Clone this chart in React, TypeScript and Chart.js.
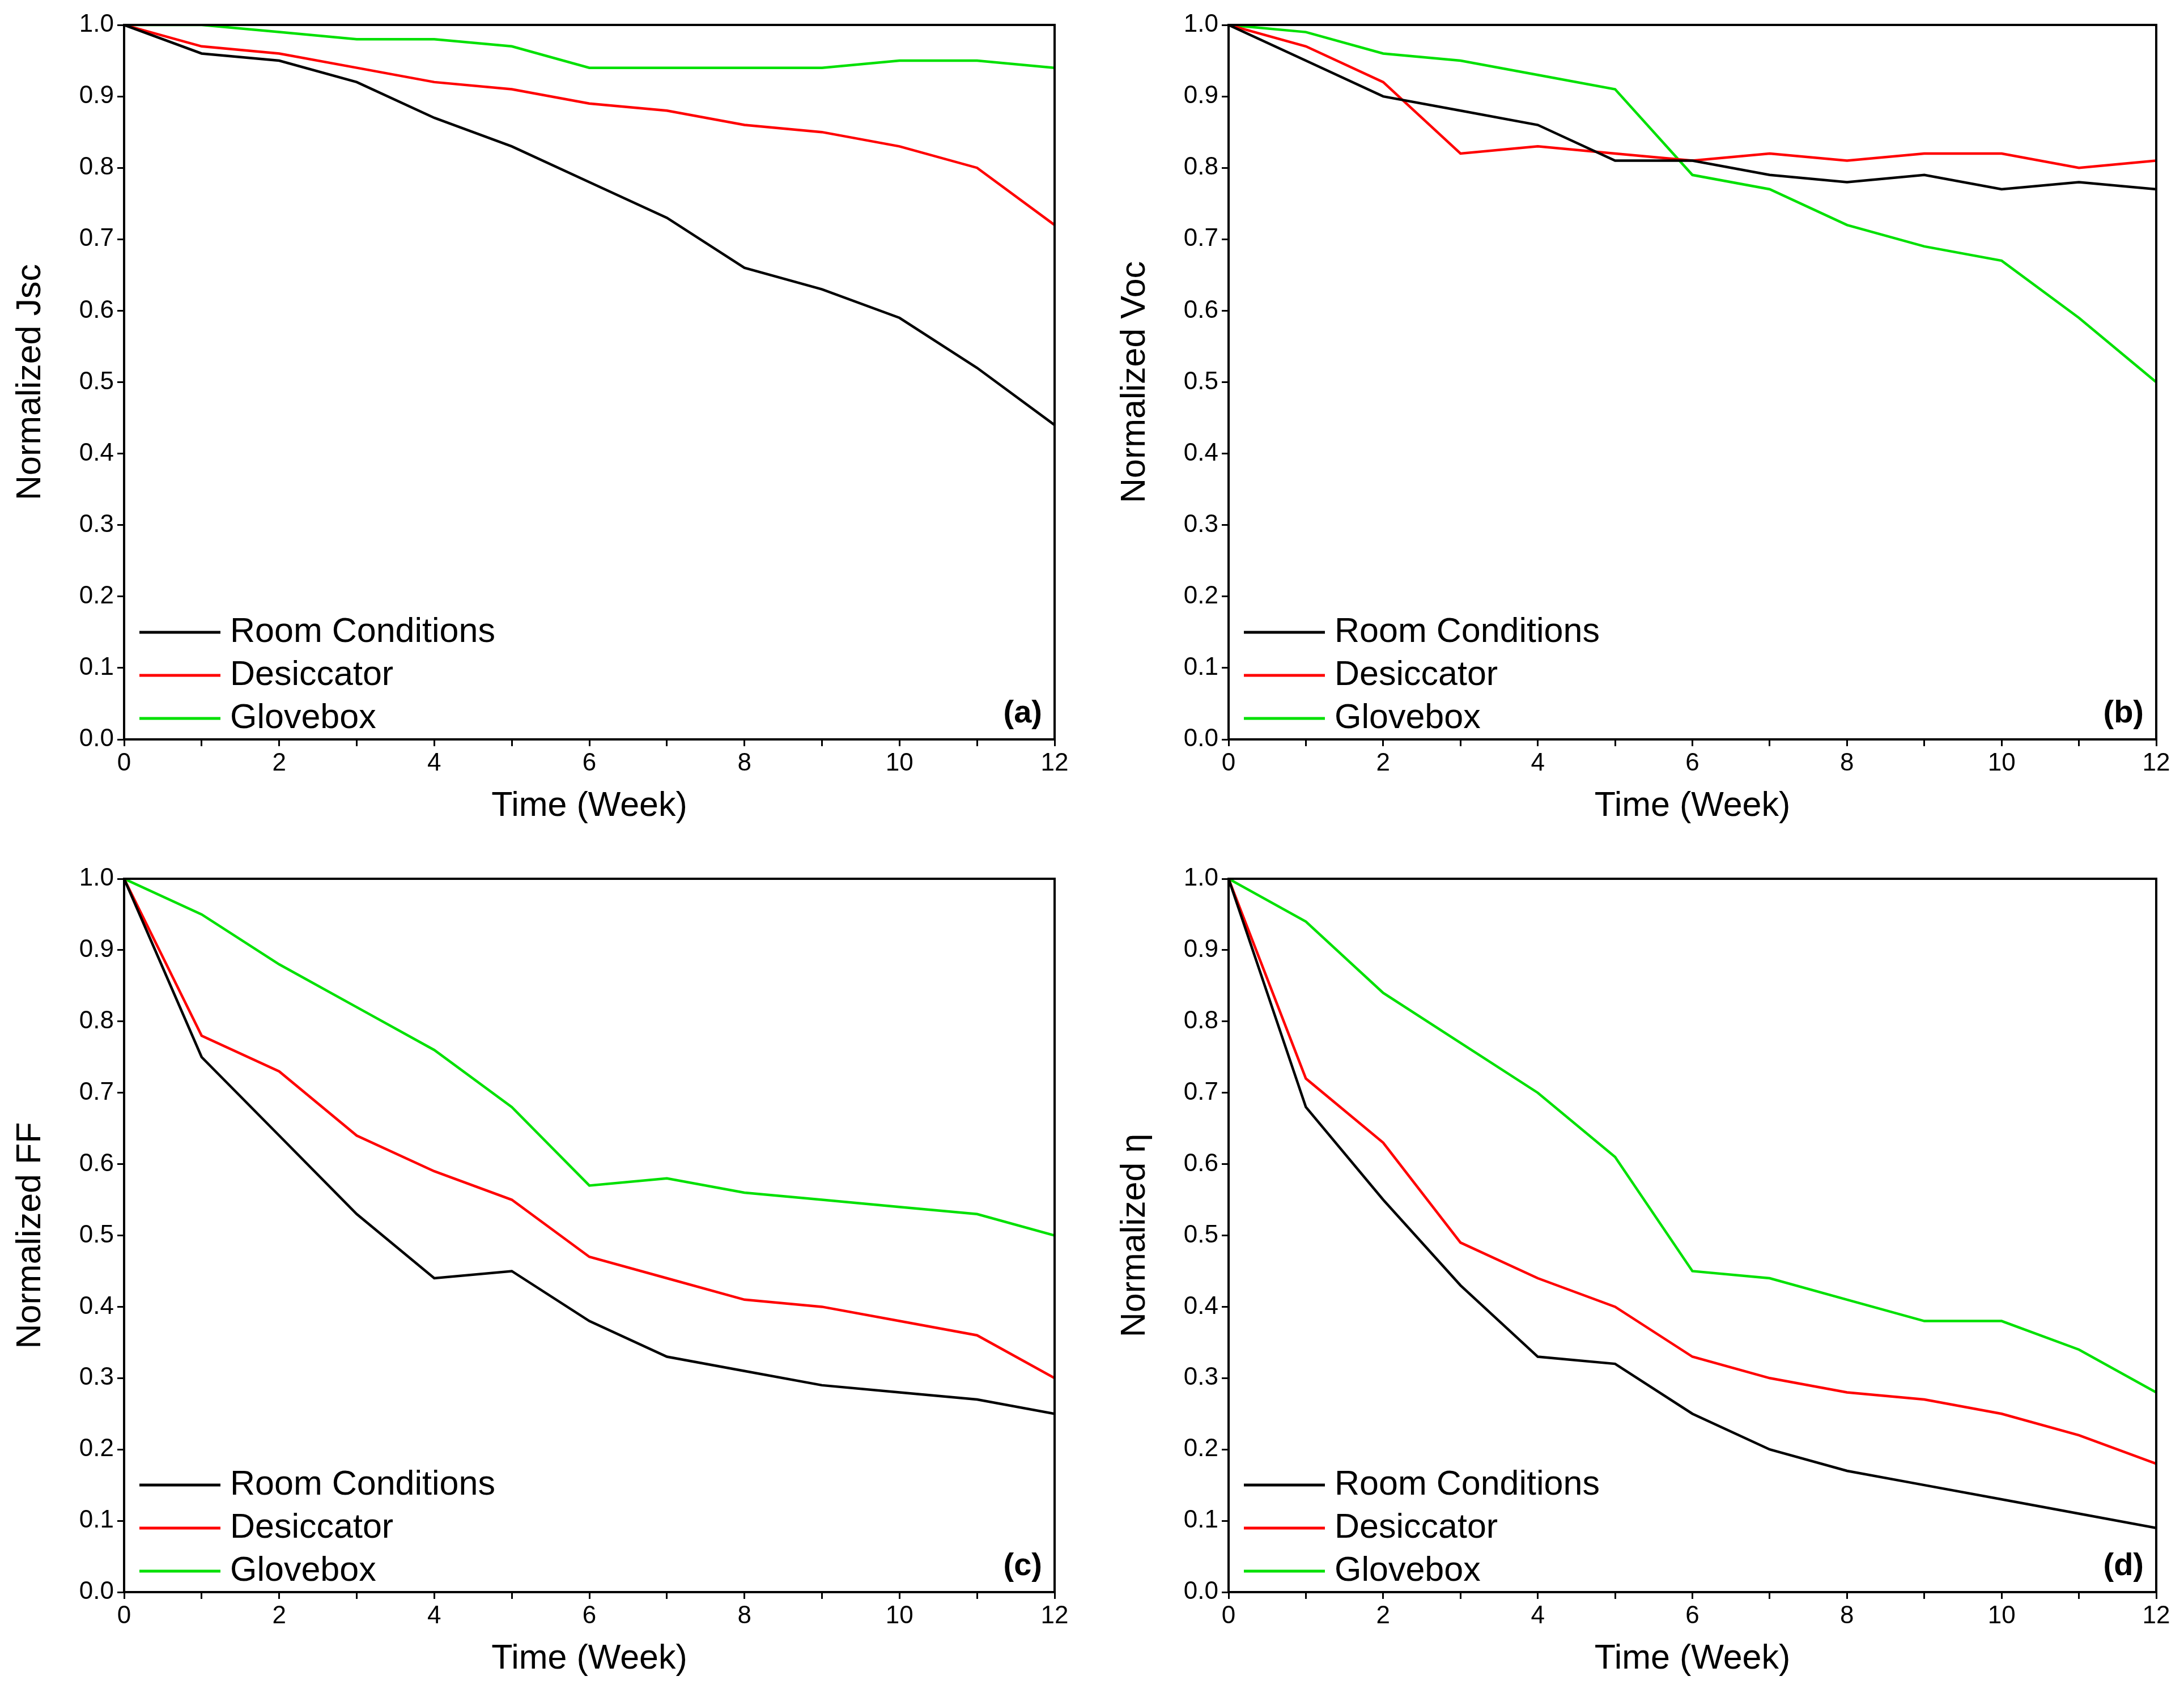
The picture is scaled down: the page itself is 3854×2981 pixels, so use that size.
import React, { useEffect, useRef } from "react";
import { Chart, registerables } from "chart.js";
Chart.register(...registerables);

const weeks = [0, 1, 2, 3, 4, 5, 6, 7, 8, 9, 10, 11, 12];
const seriesNames = ["Room Conditions", "Desiccator", "Glovebox"];
const seriesColors = ["#000000", "#ff0000", "#00e000"];

const jscRoom = [1, 0.96, 0.95, 0.92, 0.87, 0.83, 0.78, 0.73, 0.66, 0.63, 0.59, 0.52, 0.44];
const jscDesic = [1, 0.97, 0.96, 0.94, 0.92, 0.91, 0.89, 0.88, 0.86, 0.85, 0.83, 0.8, 0.72];
const jscGlove = [1, 1, 0.99, 0.98, 0.98, 0.97, 0.94, 0.94, 0.94, 0.94, 0.95, 0.95, 0.94];
const vocRoom = [1, 0.95, 0.9, 0.88, 0.86, 0.81, 0.81, 0.79, 0.78, 0.79, 0.77, 0.78, 0.77];
const vocDesic = [1, 0.97, 0.92, 0.82, 0.83, 0.82, 0.81, 0.82, 0.81, 0.82, 0.82, 0.8, 0.81];
const vocGlove = [1, 0.99, 0.96, 0.95, 0.93, 0.91, 0.79, 0.77, 0.72, 0.69, 0.67, 0.59, 0.5];
const ffRoom = [1, 0.75, 0.64, 0.53, 0.44, 0.45, 0.38, 0.33, 0.31, 0.29, 0.28, 0.27, 0.25];
const ffDesic = [1, 0.78, 0.73, 0.64, 0.59, 0.55, 0.47, 0.44, 0.41, 0.4, 0.38, 0.36, 0.3];
const ffGlove = [1, 0.95, 0.88, 0.82, 0.76, 0.68, 0.57, 0.58, 0.56, 0.55, 0.54, 0.53, 0.5];
const etaRoom = [1, 0.68, 0.55, 0.43, 0.33, 0.32, 0.25, 0.2, 0.17, 0.15, 0.13, 0.11, 0.09];
const etaDesic = [1, 0.72, 0.63, 0.49, 0.44, 0.4, 0.33, 0.3, 0.28, 0.27, 0.25, 0.22, 0.18];
const etaGlove = [1, 0.94, 0.84, 0.77, 0.7, 0.61, 0.45, 0.44, 0.41, 0.38, 0.38, 0.34, 0.28];

const FONT = "'Liberation Sans', Arial, sans-serif";

type PanelDef = {
  yTitle: string; tag: string; data: number[][];
  left: number; top: number; width: number; height: number;
  yAxisW: number; padTop: number; padRight: number; xAxisH: number;
};

const panels: PanelDef[] = [
  { yTitle: "Normalized Jsc", tag: "(a)", data: [jscRoom, jscDesic, jscGlove], left: 0, top: 0, width: 1900, height: 1480, yAxisW: 219, padTop: 44, padRight: 39, xAxisH: 175 },
  { yTitle: "Normalized Voc", tag: "(b)", data: [vocRoom, vocDesic, vocGlove], left: 1927, top: 0, width: 1927, height: 1480, yAxisW: 241, padTop: 44, padRight: 49, xAxisH: 175 },
  { yTitle: "Normalized FF", tag: "(c)", data: [ffRoom, ffDesic, ffGlove], left: 0, top: 1500, width: 1900, height: 1481, yAxisW: 219, padTop: 51, padRight: 39, xAxisH: 171 },
  { yTitle: "Normalized \u03b7", tag: "(d)", data: [etaRoom, etaDesic, etaGlove], left: 1927, top: 1500, width: 1927, height: 1481, yAxisW: 241, padTop: 51, padRight: 49, xAxisH: 171 },
];

function Panel({ p }: { p: PanelDef }) {
  const ref = useRef<HTMLCanvasElement>(null);
  useEffect(() => {
    const deco = {
      id: "deco",
      afterDraw(chart: any) {
        const { ctx, chartArea: a } = chart;
        ctx.save();
        ctx.strokeStyle = "#000"; ctx.lineWidth = 4;
        ctx.strokeRect(a.left, a.top, a.right - a.left, a.bottom - a.top);
        ctx.fillStyle = "#000";
        ctx.font = `61px ${FONT}`;
        ctx.textAlign = "center"; ctx.textBaseline = "middle";
        ctx.fillText("Time (Week)", (a.left + a.right) / 2, a.bottom + 118);
        ctx.save();
        ctx.translate(a.left - 165, (a.top + a.bottom) / 2);
        ctx.rotate(-Math.PI / 2);
        ctx.fillText(p.yTitle, 0, 0);
        ctx.restore();
        ctx.textAlign = "left";
        ctx.font = `61px ${FONT}`;
        const rows = [-189, -113, -37];
        seriesNames.forEach((n, i) => {
          const y = a.bottom + rows[i];
          ctx.strokeStyle = seriesColors[i]; ctx.lineWidth = 5;
          ctx.beginPath(); ctx.moveTo(a.left + 27, y); ctx.lineTo(a.left + 170, y); ctx.stroke();
          ctx.fillStyle = "#000";
          ctx.fillText(n, a.left + 187, y);
        });
        ctx.font = `bold 56px ${FONT}`;
        ctx.textAlign = "right";
        ctx.fillText(p.tag, a.right - 22, a.bottom - 45);
        ctx.restore();
      },
    };
    const chart = new Chart(ref.current!, {
      type: "line",
      data: {
        datasets: p.data.map((d, i) => ({
          label: seriesNames[i],
          data: d.map((v, j) => ({ x: weeks[j], y: v })),
          borderColor: seriesColors[i], borderWidth: 4.5, pointRadius: 0, tension: 0,
        })),
      },
      options: {
        animation: false, responsive: false, maintainAspectRatio: false,
        layout: { padding: { top: p.padTop, right: p.padRight, left: 0, bottom: 0 } },
        plugins: { legend: { display: false }, tooltip: { enabled: false } },
        scales: {
          x: {
            type: "linear", min: 0, max: 12,
            ticks: { stepSize: 1, color: "#000", font: { size: 44, family: FONT }, maxRotation: 0, autoSkip: false, padding: 4,
              callback: (v: any) => (Number(v) % 2 === 0 ? String(v) : "") },
            grid: { drawOnChartArea: false, color: "#000", tickLength: 12, lineWidth: 3 },
            border: { display: false },
            afterFit: (s: any) => { s.height = p.xAxisH; },
          },
          y: {
            min: 0, max: 1,
            ticks: { stepSize: 0.1, color: "#000", font: { size: 44, family: FONT }, padding: 6,
              callback: (v: any) => Number(v).toFixed(1) },
            grid: { drawOnChartArea: false, color: "#000", tickLength: 12, lineWidth: 3 },
            border: { display: false },
            afterFit: (s: any) => { s.width = p.yAxisW; },
          },
        },
      },
      plugins: [deco],
    } as any);
    return () => chart.destroy();
  }, []);
  return (
    <div style={{ position: "absolute", left: p.left, top: p.top, width: p.width, height: p.height }}>
      <canvas ref={ref} width={p.width} height={p.height} style={{ width: p.width, height: p.height }} />
    </div>
  );
}

export default function App() {
  return (
    <div style={{ position: "absolute", left: 0, top: 0, width: 3854, height: 2981, background: "#fff" }}>
      {panels.map((p, i) => <Panel key={i} p={p} />)}
    </div>
  );
}
